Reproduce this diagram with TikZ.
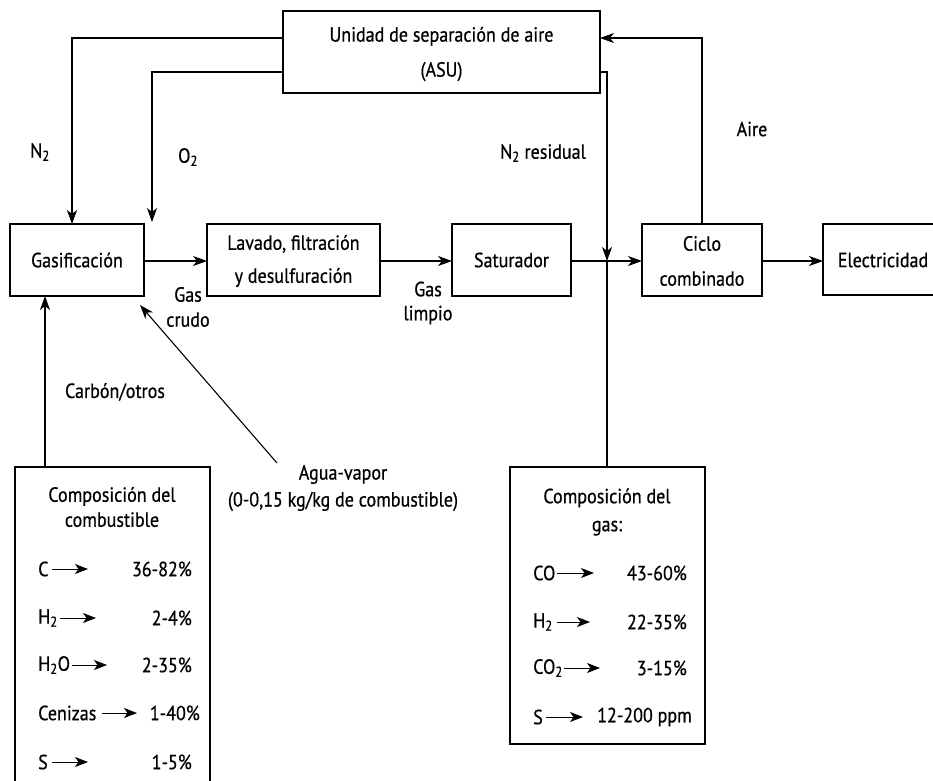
\documentclass[tikz,border=0pt]{standalone}
\usepackage{fontspec}
\setmainfont{PT Sans}[FakeStretch=0.88,FakeBold=0.6]
\usetikzlibrary{arrows.meta}
\begin{document}
\begin{tikzpicture}[x=1pt,y=-1pt,
  every node/.style={font=\fontsize{20.5}{26}\selectfont, inner sep=0pt},
  unit/.style={draw, line width=1.1pt},
  flow/.style={line width=1.1pt, -{Stealth[length=14pt,width=10pt,inset=4pt]}},
  line/.style={line width=1.1pt},
  small/.style={line width=1pt, -{Stealth[length=13pt,width=10pt,inset=3.5pt]}},
  txt/.style={align=center}]
\useasboundingbox (0,0) rectangle (933,780);
\begin{scope}
\clip (0,0) rectangle (933,780);

% process units
\draw[unit] (283,11) rectangle (600,93);
\node[txt] (asu) at (441.5,54) {Unidad de separación de aire\\[9pt](ASU)};
\draw[unit] (10,224) rectangle (144,296);
\node (gasif) at (77,260) {Gasificación};
\draw[unit] (207,224) rectangle (380,296);
\node[txt] (lav) at (293.5,261) {Lavado, filtración\\[7pt]y desulfuración};
\draw[unit] (452,224) rectangle (571,296);
\node (sat) at (511.5,260) {Saturador};
\draw[unit] (642,224) rectangle (762,296);
\node[txt] (cc) at (702,261) {Ciclo\\[9pt]combinado};
\draw[unit] (823,224) rectangle (960,295);
\node (elec) at (883,260) {Electricidad};

% anchor points of the flow lines
\coordinate (asuN) at (283,38);
\coordinate (asuO) at (283,72);
\coordinate (asuR) at (600,72);
\coordinate (asuA) at (600,38);
\coordinate (gN) at (72,224);
\coordinate (gO) at (152,222);
\coordinate (gR) at (144,261);
\coordinate (gB) at (45,296);
\coordinate (gC) at (140,305);
\coordinate (lL) at (207,261);
\coordinate (lR) at (380,261);
\coordinate (sL) at (452,261);
\coordinate (sR) at (571,261);
\coordinate (cL) at (642,261);
\coordinate (cR) at (762,261);
\coordinate (cT) at (702,224);
\coordinate (eL) at (823,261);
\coordinate (res) at (607,72);
\coordinate (mix) at (607,261);
\coordinate (fT) at (45,467);
\coordinate (gasT) at (607,467);
\coordinate (agua) at (277,463);

% flows
\draw[flow] (asuN) -| (gN);
\draw[flow] (asuO) -| (gO);
\draw[flow] (gR) -- (lL);
\draw[flow] (lR) -- (sL);
\draw[flow] (sR) -- (cL);
\draw[flow] (cR) -- (eL);
\draw[flow] (cT) |- (asuA);
\draw[flow] (asuR) -- (res) -- (mix);
\draw[line] (mix) -- (gasT);
\draw[flow] (fT) -- (gB);
\draw[flow] (agua) -- (gC);

% stream labels
\node (lN2) at (40,152) {N\textsubscript{2}};
\node (lO2) at (188,157) {O\textsubscript{2}};
\node (lres) at (543,153) {N\textsubscript{2} residual};
\node (laire) at (752,129) {Aire};
\node[txt] (lcrudo) at (188,307) {Gas\\[-1pt]crudo};
\node[txt] (llimpio) at (428,303) {Gas\\[-2pt]limpio};
\node (lcarbon) at (115,392) {Carbón/otros};
\node[txt] (lagua) at (343,488) {Agua-vapor\\[1pt](0-0,15 kg/kg de combustible)};

% fuel composition
\draw[unit] (15,467) rectangle (210,820);
\node[txt] (fhead) at (112,507) {Composición del\\[-1pt]combustible};
\node[anchor=west] (fC) at (38,569) {C};
\node[anchor=west] (fH) at (38,618) {H\textsubscript{2}};
\node[anchor=west] (fW) at (38,665) {H\textsubscript{2}O};
\node[anchor=west] (fA) at (38,713) {Cenizas};
\node[anchor=west] (fS) at (38,762) {S};
\coordinate (fCa) at (88,569);
\coordinate (fHa) at (96,618);
\coordinate (fWa) at (107,665);
\coordinate (fAa) at (137,713);
\coordinate (fSa) at (88,762);
\draw[small] (52,569) -- (fCa);
\draw[small] (60,618) -- (fHa);
\draw[small] (72,665) -- (fWa);
\draw[small] (102,713) -- (fAa);
\draw[small] (52,762) -- (fSa);
\node[anchor=east] (vC) at (192,569) {36-82\%};
\node[anchor=east] (vH) at (192,618) {2-4\%};
\node[anchor=east] (vW) at (192,665) {2-35\%};
\node[anchor=east] (vA) at (200,713) {1-40\%};
\node[anchor=east] (vS) at (192,762) {1-5\%};

% gas composition
\draw[unit] (510,467) rectangle (705,744);
\node[txt] (ghead) at (607,512) {Composición del\\[2pt]gas:};
\node[anchor=west] (gCO) at (533,573) {CO};
\node[anchor=west] (gH2) at (533,622) {H\textsubscript{2}};
\node[anchor=west] (gCO2) at (533,668) {CO\textsubscript{2}};
\node[anchor=west] (gS) at (533,717) {S};
\coordinate (gCOa) at (594,573);
\coordinate (gH2a) at (590,622);
\coordinate (gCO2a) at (600,668);
\coordinate (gSa) at (583,717);
\draw[small] (557,573) -- (gCOa);
\draw[small] (557,622) -- (gH2a);
\draw[small] (564,668) -- (gCO2a);
\draw[small] (546,717) -- (gSa);
\node[anchor=east] (wCO) at (687,573) {43-60\%};
\node[anchor=east] (wH2) at (687,622) {22-35\%};
\node[anchor=east] (wCO2) at (687,668) {3-15\%};
\node[anchor=east] (wS) at (692,717) {12-200 ppm};
\end{scope}
\end{tikzpicture}
\end{document}
